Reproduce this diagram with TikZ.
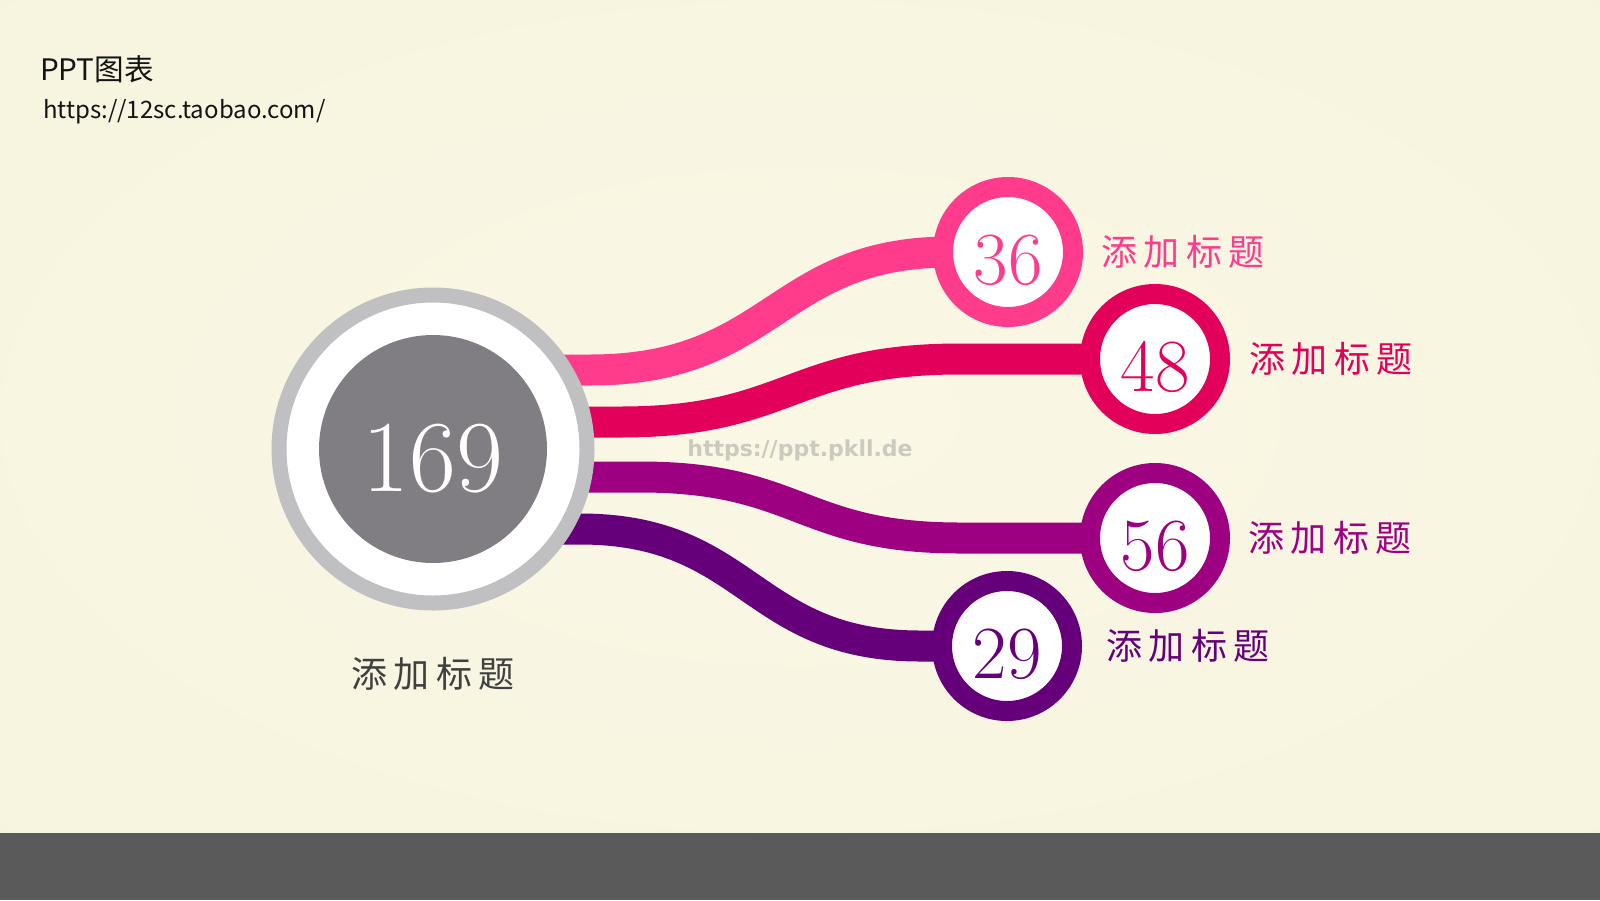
\documentclass[tikz,border=0pt]{standalone}
\usepackage{fontspec}
\usepackage{xcolor}
\usepackage{tikz}
\usetikzlibrary{positioning}
\newfontfamily\cjk{Noto Sans CJK SC}
\newfontfamily\cjkwide{Noto Sans CJK SC}[LetterSpace=18]
\newfontfamily\markfont{DejaVu Sans Bold}

\definecolor{bgin}{RGB}{250,247,229}
\definecolor{bgmid}{RGB}{245,242,220}
\definecolor{bgout}{RGB}{236,234,206}
\definecolor{barc}{RGB}{90,90,90}
\definecolor{ringgrey}{RGB}{192,191,193}
\definecolor{coregrey}{RGB}{128,126,131}
\definecolor{pinkc}{RGB}{255,60,140}
\definecolor{redc}{RGB}{226,0,90}
\definecolor{magc}{RGB}{157,0,128}
\definecolor{purc}{RGB}{102,0,122}
\definecolor{labgrey}{RGB}{64,64,64}
\definecolor{inkc}{RGB}{20,20,20}
\definecolor{markgrey}{RGB}{204,202,190}

\pgfdeclareradialshading{bgshade}{\pgfpoint{0bp}{0bp}}{color(0bp)=(bgin); color(50bp)=(bgmid); color(71bp)=(bgout)}
\pgfdeclarelayer{bg}
\pgfdeclarelayer{bandlayer}
\pgfsetlayers{bg,bandlayer,main}

\tikzset{
    band/.style={line width=31pt},
    ball/.style={circle, draw=#1, fill=white, line width=20pt, minimum size=130pt,
        inner sep=0pt, text=#1, text height=67pt, font=\fontsize{75}{75}\selectfont},
    tag/.style={text=#1, inner sep=0pt, font=\cjkwide\fontsize{36}{36}\selectfont}
}

\begin{document}
\begin{tikzpicture}[x=1pt,y=-1pt]
    \useasboundingbox (0,0) rectangle (1600,900);
    \begin{pgfonlayer}{bg}
        \shade[shading=bgshade] (0,0) rectangle (1600,833);
        \fill[barc] (0,833) rectangle (1600,900);
    \end{pgfonlayer}

    % header
    \node[anchor=west, inner sep=0pt, text=inkc, font=\cjk\fontsize{29.6}{30}\selectfont] (title) at (40,69) {PPT图表};
    \node[anchor=west, inner sep=0pt, text=inkc, font=\cjk\fontsize{24}{24}\selectfont] (site) at (43,112) {https://12sc.taobao.com/};

    % total
    \node[circle, draw=ringgrey, fill=white, line width=15pt, minimum size=308pt] (hub) at (433,449) {};
    \node[circle, fill=coregrey, minimum size=228pt, inner sep=0pt, text=white,
        text height=87pt, font=\fontsize{102}{102}\selectfont] (core) at (hub) {169};
    \node[tag=labgrey, below=47pt of hub] (tmain) {添加标题};

    % parts
    \node[ball=pinkc] (n36) at (1008,252) {36};
    \node[ball=redc]  (n48) at (1155,359) {48};
    \node[ball=magc]  (n56) at (1155,538) {56};
    \node[ball=purc]  (n29) at (1007,646) {29};

    \node[tag=pinkc, right=18pt of n36] (t36) {添加标题};
    \node[tag=redc,  right=19pt of n48] (t48) {添加标题};
    \node[tag=magc,  right=18pt of n56] (t56) {添加标题};
    \node[tag=purc,  right=24pt of n29] (t29) {添加标题};

    \node[text=markgrey, inner sep=0pt, font=\markfont\fontsize{22}{22}\selectfont] (mark) at (800,450) {https://ppt.pkll.de};

    % bands
    \coordinate (s36) at (433,370);
    \coordinate (s48) at (433,422);
    \coordinate (s56) at (433,477);
    \coordinate (s29) at (433,529);
    \begin{pgfonlayer}{bandlayer}
        \draw[band, pinkc] (s36) -- (590,370) .. controls (775,370) and (775,252) .. (950,252) -- (n36.center);
        \draw[band, redc]  (s48) -- (620,422) .. controls (790,422) and (790,359) .. (960,359) -- (n48.center);
        \draw[band, magc]  (s56) -- (640,477) .. controls (800,477) and (800,538) .. (960,538) -- (n56.center);
        \draw[band, purc]  (s29) -- (580,529) .. controls (750,529) and (750,646) .. (920,646) -- (n29.center);
    \end{pgfonlayer}
\end{tikzpicture}
\end{document}
